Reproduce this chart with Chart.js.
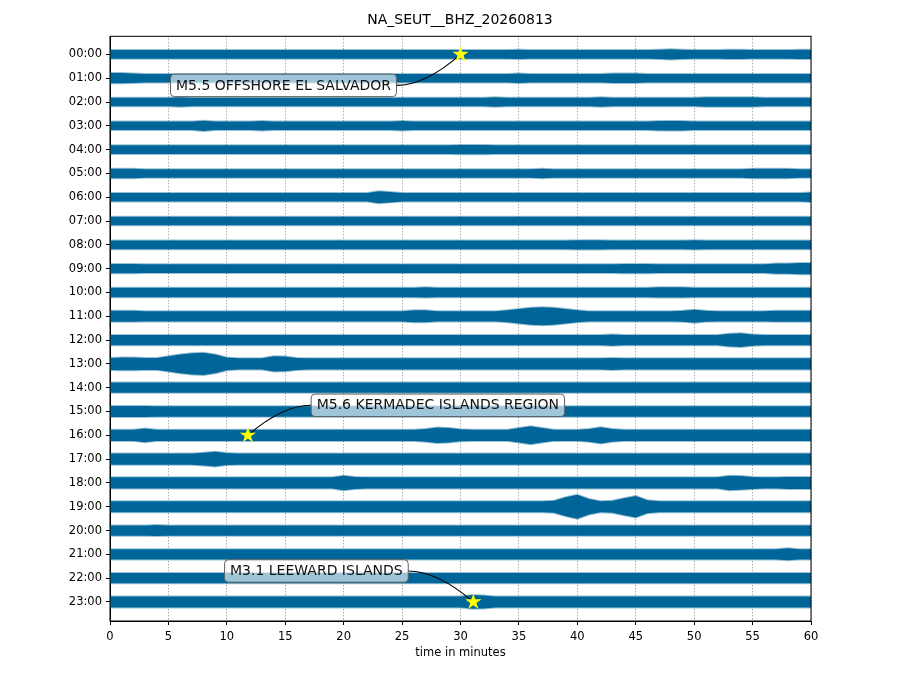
<!DOCTYPE html>
<html lang="en">
<head>
<meta charset="UTF-8">
<title>NA_SEUT__BHZ_20260813</title>
<script src="https://cdn.jsdelivr.net/npm/chart.js"></script>
<style>
  body { margin: 0; background: #fff; }
</style>
</head>
<body>
<canvas id="dayplot" width="920" height="690"></canvas>
<script>
// hour labels of the 24 one-hour lines
const hourLabels = ['00:00','01:00','02:00','03:00','04:00','05:00','06:00','07:00',
  '08:00','09:00','10:00','11:00','12:00','13:00','14:00','15:00',
  '16:00','17:00','18:00','19:00','20:00','21:00','22:00','23:00'];

const xTickValues = [0, 5, 10, 15, 20, 25, 30, 35, 40, 45, 50, 55, 60];

// minute at which each envelope reading was taken
const minuteMarks = [0,1,2,3,4,5,6,7,8,9,10,11,12,13,14,15,16,17,18,19,20,
  21,22,23,24,25,26,27,28,29,30,31,32,33,34,35,36,37,38,39,40,
  41,42,43,44,45,46,47,48,49,50,51,52,53,54,55,56,57,58,59,60];

// half-width of the trace per minute (counts), one list per hour
const envelope = [
  [10,10,10,10,10,10,10,10,10,10, 10,10,10,10,10,10,10,10,10,10, 10,10,10,10,10,10,10,10,10,10, 10,10,10,10,10,11,10,10,10,10, 10,10,10,10,10,10,10,11,12,11, 10,10,10,11,11,10,10,10,10,11, 11],
  [12,12,11,10,10,10,10,10,10,10, 10,10,10,10,10,10,10,10,10,10, 10,10,10,10,10,10,10,10,10,10, 10,10,10,10,10,11,10,10,10,10, 10,10,10,11,11,11,10,10,10,10, 10,10,10,10,10,10,10,10,10,10, 10],
  [10,10,10,10,10,10,11,10,10,10, 10,10,10,10,10,10,10,10,10,10, 10,10,10,10,10,10,10,10,10,10, 10,10,10,11,10,10,10,10,10,10, 10,10,11,10,10,10,10,10,10,10, 10,11,11,11,11,11,10,10,10,10, 10],
  [10,10,10,10,10,10,10,10,12,10, 10,10,10,11,10,10,10,10,10,10, 10,10,10,10,10,11,10,10,10,10, 10,10,10,10,10,10,10,10,10,10, 10,10,10,10,10,10,10,11,11,11, 10,10,10,10,10,10,10,10,10,10, 10],
  [10,10,10,10,10,10,10,10,10,10, 10,10,10,10,10,10,10,10,10,10, 10,10,10,10,10,10,10,10,10,10, 11,11,11,10,10,10,10,10,10,10, 10,10,10,10,10,10,10,10,10,10, 10,10,10,10,10,10,10,10,10,10, 10],
  [11,11,11,10,10,10,10,10,10,10, 10,10,10,10,10,10,10,10,10,10, 10,10,10,10,10,10,10,10,10,10, 10,10,10,10,10,10,10,11,10,10, 10,10,10,10,10,10,10,10,10,10, 10,10,10,10,10,11,11,11,11,10, 10],
  [10,10,10,10,10,10,10,10,10,10, 10,10,10,10,10,10,10,10,10,10, 10,10,10,14,12,10,10,10,10,10, 10,10,10,10,10,10,10,10,10,10, 10,10,10,10,10,10,10,10,10,10, 10,10,10,10,10,10,10,10,10,10, 11],
  [10,10,10,10,10,10,10,10,10,10, 10,10,10,10,10,10,10,10,10,10, 10,10,10,10,10,10,10,10,10,10, 10,10,10,10,10,10,10,10,10,10, 10,10,10,10,10,10,10,10,10,10, 10,10,10,10,10,10,10,10,10,10, 10],
  [10,10,10,10,10,10,10,10,10,10, 10,10,10,10,10,10,10,10,10,10, 10,10,10,10,10,10,10,10,10,10, 10,10,10,10,10,10,10,10,10,10, 11,11,11,10,10,10,10,10,10,10, 11,10,10,10,10,10,10,10,10,10, 10],
  [11,11,11,10,10,10,10,10,10,10, 10,10,10,10,10,10,10,10,10,10, 10,10,10,10,10,10,10,10,10,10, 10,10,10,10,10,10,10,10,10,10, 10,10,10,10,11,11,11,10,10,10, 10,10,10,10,10,10,10,12,12,13, 13],
  [11,11,11,11,11,11,11,11,11,11, 11,11,11,11,11,11,11,11,11,11, 11,11,11,11,11,11,11,12,11,11, 11,11,11,11,11,11,11,11,11,11, 11,11,11,11,11,11,11,12,12,12, 11,11,11,11,11,11,11,11,11,11, 11],
  [13,13,13,12,12,12,12,12,12,12, 12,12,12,12,12,12,12,12,12,12, 12,12,12,12,12,12,14,14,12,12, 12,12,12,12,14,17,20,21,20,17, 14,12,12,12,12,12,12,12,12,13, 15,13,12,12,12,12,12,13,13,13, 13],
  [12,12,12,12,12,12,12,12,12,12, 12,12,12,12,12,12,12,12,12,12, 12,12,12,12,12,12,12,12,12,12, 12,12,12,12,12,12,12,12,12,12, 12,12,12,13,12,12,12,12,12,12, 12,12,12,15,16,13,12,12,12,12, 12],
  [14,15,15,14,14,18,22,25,26,22, 15,13,13,13,18,17,14,13,13,13, 13,13,13,13,13,13,13,13,13,13, 13,13,13,13,13,13,13,13,13,13, 13,13,13,14,13,13,13,13,13,13, 13,13,13,13,13,13,13,13,13,13, 13],
  [12,12,12,12,12,12,12,12,12,12, 12,12,12,12,12,12,12,12,12,12, 12,12,12,12,12,12,12,12,12,12, 12,12,12,12,12,12,12,12,12,12, 12,12,12,12,12,12,12,12,12,12, 12,12,12,12,12,12,12,12,12,12, 12],
  [13,13,13,13,12,12,12,12,12,12, 12,12,12,12,12,12,12,12,12,12, 12,12,12,12,12,12,12,12,12,12, 12,12,12,12,12,12,12,12,12,12, 12,12,12,12,12,12,12,12,12,12, 12,12,12,12,12,12,12,12,12,12, 12],
  [13,13,13,16,13,13,13,13,13,13, 13,13,13,13,13,13,13,13,13,13, 13,13,13,13,13,13,13,15,18,17, 14,13,13,13,13,17,21,17,13,13, 13,15,19,15,13,13,13,13,13,13, 13,13,13,13,13,13,13,13,13,13, 13],
  [13,13,13,13,13,13,13,13,15,17, 14,13,13,13,13,13,13,13,13,13, 13,13,13,13,13,13,13,13,13,13, 13,13,13,13,13,13,13,13,13,13, 13,13,13,13,13,13,13,13,13,13, 13,13,13,13,13,13,13,13,13,13, 13],
  [13,13,13,13,13,13,13,13,13,13, 13,13,13,13,13,13,13,13,13,13, 17,14,13,13,13,13,13,13,13,13, 13,13,13,13,13,13,13,13,13,13, 13,13,13,13,13,13,13,13,13,13, 13,13,13,17,16,14,13,13,14,14, 14],
  [13,13,13,13,13,13,13,13,13,13, 13,13,13,13,13,13,13,13,13,13, 13,13,13,13,13,13,13,13,13,13, 13,13,13,13,13,13,13,13,14,22, 28,18,13,14,20,25,15,13,13,13, 13,13,13,13,13,13,13,13,13,13, 13],
  [12,12,12,12,13,12,12,12,12,12, 12,12,12,12,12,12,12,12,12,12, 12,12,12,12,12,12,12,12,12,12, 12,12,12,12,12,12,12,12,12,12, 12,12,12,12,12,12,12,12,12,12, 12,12,12,12,12,12,12,12,12,12, 12],
  [12,12,12,12,12,12,12,12,12,12, 12,12,12,12,12,12,12,12,12,12, 12,12,12,12,12,12,12,12,12,12, 12,12,12,12,12,12,12,12,12,12, 12,12,12,12,12,12,12,12,12,12, 12,12,12,12,12,12,12,12,14,12, 12],
  [12,12,12,12,12,12,12,12,12,12, 12,12,12,12,12,12,12,12,12,12, 12,12,12,12,12,12,12,12,12,12, 12,12,12,12,12,12,12,12,12,12, 12,12,12,12,12,12,12,12,12,12, 12,12,12,12,12,12,12,12,12,12, 12],
  [13,13,13,13,13,13,13,13,13,13, 13,13,13,13,13,13,13,13,13,13, 13,13,13,13,13,13,13,13,13,13, 13,16,15,13,13,13,13,13,13,13, 13,13,13,13,13,13,13,13,13,13, 13,13,13,13,13,13,13,13,13,13, 13]
];

// catalogue events marked on the plot
const eventNames = ['M5.5 OFFSHORE EL SALVADOR', 'M5.6 KERMADEC ISLANDS REGION', 'M3.1 LEEWARD ISLANDS'];
const eventMinutes = [30.0, 11.8, 31.1];
const eventHours = [0, 16, 23];

const traceColor = '#006699';
const ampScale = 0.018;   // line spacing per count
const fontFamily = "'DejaVu Sans', sans-serif";

// label offsets (px from the star) and which box edge the arrow leaves from
const callouts = [
  { dx: -177, dy: 31, side: 'right' },
  { dx: 190, dy: -30, side: 'left' },
  { dx: -157, dy: -31, side: 'right' }
];

const datasets = [];
envelope.forEach((row, r) => {
  datasets.push({
    data: row.map((a, j) => ({ x: minuteMarks[j], y: -r - a * ampScale })),
    borderColor: 'rgba(0,102,153,0.4)',
    borderWidth: 2,
    fill: false
  });
  datasets.push({
    data: row.map((a, j) => ({ x: minuteMarks[j], y: -r + a * ampScale })),
    borderColor: 'rgba(0,102,153,0.4)',
    borderWidth: 2,
    backgroundColor: traceColor,
    fill: '-1'
  });
});

function starPath(ctx, cx, cy, R) {
  const r = R * 0.382;
  ctx.beginPath();
  for (let i = 0; i < 10; i++) {
    const rad = i % 2 === 0 ? R : r;
    const ang = -Math.PI / 2 + i * Math.PI / 5;
    const px = cx + rad * Math.cos(ang), py = cy + rad * Math.sin(ang);
    if (i === 0) ctx.moveTo(px, py); else ctx.lineTo(px, py);
  }
  ctx.closePath();
}

function roundRect(ctx, x, y, w, h, rr) {
  ctx.beginPath();
  ctx.moveTo(x + rr, y);
  ctx.lineTo(x + w - rr, y);
  ctx.quadraticCurveTo(x + w, y, x + w, y + rr);
  ctx.lineTo(x + w, y + h - rr);
  ctx.quadraticCurveTo(x + w, y + h, x + w - rr, y + h);
  ctx.lineTo(x + rr, y + h);
  ctx.quadraticCurveTo(x, y + h, x, y + h - rr);
  ctx.lineTo(x, y + rr);
  ctx.quadraticCurveTo(x, y, x + rr, y);
  ctx.closePath();
}

const framePlugin = {
  id: 'frame',
  afterDatasetsDraw(chart) {
    const { ctx, chartArea: a } = chart;
    ctx.save();
    ctx.strokeStyle = '#000';
    ctx.lineWidth = 1;
    ctx.strokeRect(a.left, a.top, a.right - a.left, a.bottom - a.top);
    ctx.restore();
  }
};

const eventPlugin = {
  id: 'events',
  afterDraw(chart) {
    const { ctx } = chart;
    const xs = chart.scales.x, ys = chart.scales.y;
    ctx.save();
    ctx.font = '14px ' + fontFamily;
    eventNames.forEach((name, i) => {
      const sx = xs.getPixelForValue(eventMinutes[i]);
      const sy = ys.getPixelForValue(-eventHours[i]);
      const c = callouts[i];
      const lx = sx + c.dx, ly = sy + c.dy;
      const tw = ctx.measureText(name).width;
      const bw = tw + 11, bh = 22.5;
      const bx = lx - bw / 2, by = ly - bh / 2;

      // connector
      const ex = c.side === 'right' ? bx + bw : bx;
      const cx = ex + 0.45 * (sx - ex);
      ctx.beginPath();
      ctx.moveTo(ex, ly);
      ctx.quadraticCurveTo(cx, ly, sx, sy);
      ctx.strokeStyle = '#000';
      ctx.lineWidth = 1.1;
      ctx.stroke();

      // label box
      roundRect(ctx, bx, by, bw, bh, 4);
      ctx.fillStyle = 'rgba(255,255,255,0.62)';
      ctx.fill();
      ctx.strokeStyle = '#606060';
      ctx.lineWidth = 1;
      ctx.stroke();
      ctx.fillStyle = '#111';
      ctx.textAlign = 'center';
      ctx.textBaseline = 'middle';
      ctx.fillText(name, lx, ly + 0.5);

      // star
      starPath(ctx, sx, sy, 8.5);
      ctx.fillStyle = '#ffff00';
      ctx.fill();
    });
    ctx.restore();
  }
};

new Chart(document.getElementById('dayplot'), {
  type: 'line',
  data: { datasets },
  plugins: [framePlugin, eventPlugin],
  options: {
    responsive: false,
    animation: false,
    events: [],
    parsing: false,
    normalized: true,
    elements: { point: { radius: 0 }, line: { tension: 0 } },
    layout: { padding: 0 },
    plugins: {
      legend: { display: false },
      tooltip: { enabled: false },
      title: {
        display: true,
        text: 'NA_SEUT__BHZ_20260813',
        color: '#000',
        font: { family: fontFamily, size: 14, weight: 'normal' },
        padding: { top: 12, bottom: 7.5 }
      }
    },
    scales: {
      x: {
        type: 'linear',
        min: 0,
        max: 60,
        afterBuildTicks: s => { s.ticks = xTickValues.map(v => ({ value: v })); },
        afterFit: s => { s.height = 69; },
        ticks: {
          color: '#000',
          font: { family: fontFamily, size: 11.5 },
          padding: 5,
          maxRotation: 0,
          autoSkip: false
        },
        grid: {
          color: 'rgba(0,0,0,0.6)',
          lineWidth: 0.8,
          tickLength: 4,
          tickColor: '#000',
          tickWidth: 1
        },
        border: { display: true, color: '#000', width: 1, dash: [1, 2] },
        title: {
          display: true,
          text: 'time in minutes',
          color: '#000',
          font: { family: fontFamily, size: 11.5 },
          padding: { top: 4, bottom: 30 }
        }
      },
      y: {
        type: 'linear',
        min: -23.8,
        max: 0.76,
        afterBuildTicks: s => { s.ticks = hourLabels.map((_, i) => ({ value: -i })); },
        afterFit: s => { s.width = 110; },
        ticks: {
          color: '#000',
          font: { family: fontFamily, size: 11.5 },
          padding: 4,
          autoSkip: false,
          callback: (v, i) => hourLabels[i]
        },
        grid: {
          drawOnChartArea: false,
          tickLength: 4,
          tickColor: '#000',
          tickWidth: 1
        },
        border: { display: true, color: '#000', width: 1 }
      },
      // empty right-hand strip so the plot sits where the original axes did
      pad: {
        type: 'linear',
        position: 'right',
        display: true,
        afterFit: s => { s.width = 109; },
        ticks: { display: false },
        grid: { display: false },
        border: { display: false }
      }
    }
  }
});
</script>
</body>
</html>
